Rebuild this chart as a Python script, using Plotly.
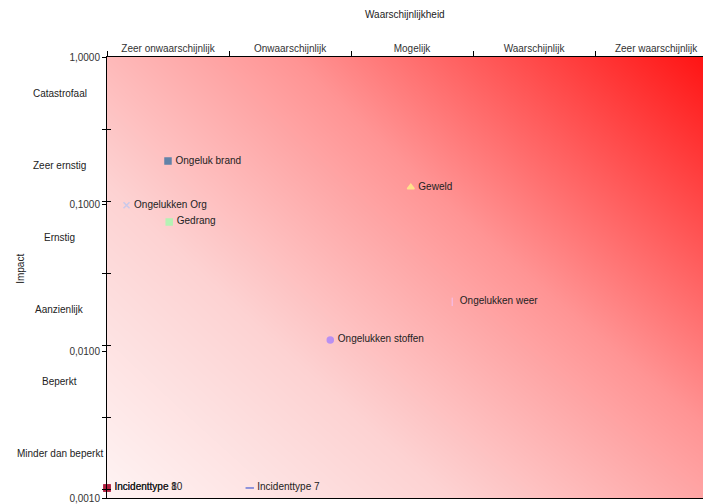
import plotly.graph_objects as go

# ---- data ----
prob_categories = ["Zeer onwaarschijnlijk", "Onwaarschijnlijk", "Mogelijk", "Waarschijnlijk", "Zeer waarschijnlijk"]
impact_categories = ["Minder dan beperkt", "Beperkt", "Aanzienlijk", "Ernstig", "Zeer ernstig", "Catastrofaal"]

incident_names = ["Ongeluk brand", "Ongelukken Org", "Gedrang", "Geweld", "Ongelukken weer",
                  "Ongelukken stoffen", "Incidenttype 10", "Incidenttype 8", "Incidenttype 7"]
incident_prob = [0.5, 0.16, 0.51, 2.49, 2.83, 1.83, 0.0, 0.0, 1.17]
incident_impact = [0.196, 0.098, 0.0755, 0.13, 0.0216, 0.0119, 0.00117, 0.00117, 0.00117]
marker_symbols = ["square", "x-thin-open", "square", "triangle-up", "line-ns-open",
                  "circle", "square", "square", "line-ew-open"]
marker_colors = ["#6283a8", "#c9c9ea", "#b4f2b4", "#ffe08c", "#f7b8dc",
                 "#b890f2", "#b02040", "#b02040", "#6a78d8"]

y_tickvals = [1, 0.1, 0.01, 0.001]
y_ticktext = ["1,0000", "0,1000", "0,0100", "0,0010"]

# background gradient corner levels: [bottom-left, bottom-right], [top-left, top-right]
gradient_levels = [[0.0, 0.52], [0.42, 1.0]]

FONT = "Liberation Sans, Arial, sans-serif"

fig = go.Figure()

# gradient background
fig.add_trace(go.Heatmap(
    x=[0, 1], y=[0, 1], z=gradient_levels, zsmooth="best", showscale=False,
    hoverinfo="skip", zmin=0, zmax=1,
    colorscale=[[0, "#fef3f3"], [0.3, "#fdd2d2"], [0.6, "#ff9494"], [1, "#ff1414"]],
    xaxis="x", yaxis="y"))

# category axis helpers (invisible)
fig.add_trace(go.Scatter(
    x=prob_categories + [prob_categories[-1]], y=impact_categories, mode="markers",
    marker=dict(opacity=0), hoverinfo="skip", showlegend=False, xaxis="x3", yaxis="y3"))
fig.add_trace(go.Scatter(
    x=prob_categories + [prob_categories[-1]], y=impact_categories, mode="markers",
    marker=dict(opacity=0), hoverinfo="skip", showlegend=False, xaxis="x3", yaxis="y4"))

# incidents
for name, px_, iy, sym, col in zip(incident_names, incident_prob, incident_impact, marker_symbols, marker_colors):
    fig.add_trace(go.Scatter(
        x=[px_], y=[iy], mode="markers+text", text=["\u00a0" + name], textposition="middle right",
        textfont=dict(family=FONT, size=10, color="#222222"),
        marker=dict(symbol=sym, size=6, color=col, line=dict(color=col, width=1.5)),
        showlegend=False, xaxis="x2", yaxis="y2", cliponaxis=False))

annotations = []
for cat in impact_categories:
    annotations.append(dict(text=cat, xref="paper", yref="y3", x=-0.079, y=cat,
                            xanchor="center", yanchor="middle", showarrow=False,
                            font=dict(family=FONT, size=10, color="#222222")))
annotations.append(dict(text="Waarschijnlijkheid", xref="paper", yref="paper", x=0.5, y=1.097,
                        xanchor="center", yanchor="middle", showarrow=False,
                        font=dict(family=FONT, size=10, color="#222222")))
annotations.append(dict(text="Impact", xref="paper", yref="paper", x=-0.144, y=0.52,
                        textangle=-90, xanchor="center", yanchor="middle", showarrow=False,
                        font=dict(family=FONT, size=10, color="#222222")))

fig.update_layout(
    width=703, height=504,
    margin=dict(l=107, r=0, t=57, b=6),
    paper_bgcolor="white", plot_bgcolor="white",
    showlegend=False,
    font=dict(family=FONT, size=10, color="#222222"),
    xaxis=dict(range=[0, 1], visible=False, fixedrange=True),
    yaxis=dict(range=[0, 1], visible=False, fixedrange=True),
    xaxis2=dict(overlaying="x", range=[0, 4.885], side="bottom", showline=True, linecolor="black",
                linewidth=1, ticks="", showticklabels=False, showgrid=False, zeroline=False),
    yaxis2=dict(overlaying="y", type="log", range=[-3, 0], side="left", tickvals=y_tickvals,
                ticktext=y_ticktext, ticks="outside", ticklen=4, tickcolor="black",
                showline=True, linecolor="black", linewidth=1, showgrid=False, zeroline=False,
                tickfont=dict(family=FONT, size=10, color="#333333")),
    xaxis3=dict(overlaying="x", type="category", categoryorder="array", categoryarray=prob_categories,
                range=[-0.5, 4.385], side="top", tickson="boundaries", ticks="outside", ticklen=5,
                tickcolor="black", showline=True, linecolor="black", linewidth=1, showgrid=False,
                tickfont=dict(family=FONT, size=10, color="#333333")),
    yaxis3=dict(overlaying="y", type="category", categoryorder="array", categoryarray=impact_categories,
                range=[-0.625, 5.5], side="left", tickson="boundaries", ticks="outside", ticklen=4,
                tickcolor="black", showticklabels=False, showline=False, showgrid=False),
    yaxis4=dict(overlaying="y", type="category", categoryorder="array", categoryarray=impact_categories,
                range=[-0.625, 5.5], side="left", tickson="boundaries", ticks="inside", ticklen=4,
                tickcolor="black", showticklabels=False, showline=False, showgrid=False),
    annotations=annotations,
)

fig.write_html("out.html", config={"displayModeBar": False},
               post_script="document.body.style.margin='0';document.body.style.overflow='hidden';")
